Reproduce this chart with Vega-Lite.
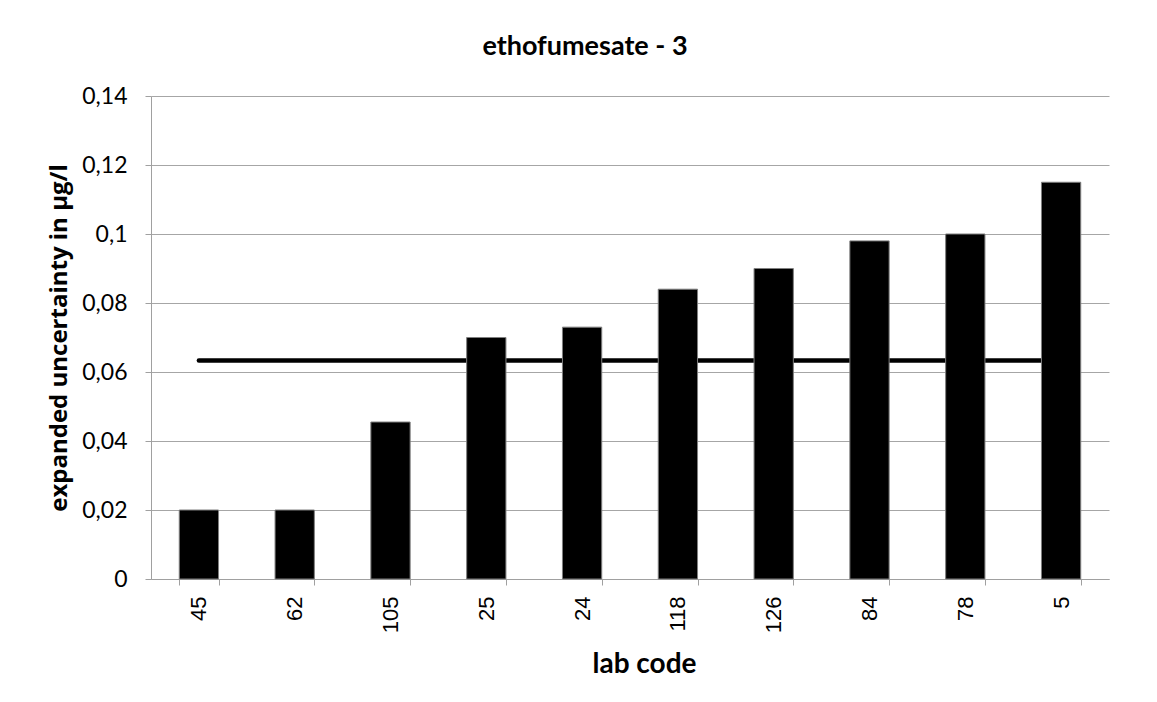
{
  "$schema": "https://vega.github.io/schema/vega-lite/v6.json",
  "width": 958,
  "height": 483,
  "autosize": {"type": "none"},
  "padding": {"left": 151, "top": 96, "right": 48, "bottom": 123},
  "background": "white",
  "config": {"view": {"stroke": null}},
  "title": {
    "text": "ethofumesate - 3",
    "font": "Lato",
    "fontSize": 27,
    "fontWeight": "bold",
    "color": "black",
    "anchor": "middle",
    "baseline": "alphabetic",
    "offset": 3,
    "dx": -45
  },
  "data": {
    "values": [
      {"lab": "45", "u": 0.02, "mean": 0.0633},
      {"lab": "62", "u": 0.02, "mean": 0.0633},
      {"lab": "105", "u": 0.0455, "mean": 0.0633},
      {"lab": "25", "u": 0.07, "mean": 0.0633},
      {"lab": "24", "u": 0.073, "mean": 0.0633},
      {"lab": "118", "u": 0.084, "mean": 0.0633},
      {"lab": "126", "u": 0.09, "mean": 0.0633},
      {"lab": "84", "u": 0.098, "mean": 0.0633},
      {"lab": "78", "u": 0.1, "mean": 0.0633},
      {"lab": "5", "u": 0.115, "mean": 0.0633}
    ]
  },
  "encoding": {
    "x": {
      "field": "lab",
      "type": "nominal",
      "sort": null,
      "scale": {"paddingInner": 0.59, "paddingOuter": 0.295},
      "axis": {
        "title": "lab code",
        "titleFont": "Lato",
        "titleFontSize": 28,
        "titleFontWeight": "bold",
        "titleColor": "black",
        "titlePadding": 18,
        "titleX": 493,
        "labelAngle": -90,
        "labelFont": "Liberation Sans",
        "labelFontSize": 22,
        "labelColor": "black",
        "labelPadding": 11,
        "labelAlign": "right",
        "labelBaseline": "middle",
        "tickBand": "extent",
        "tickSize": 6,
        "tickColor": "#a0a0a0",
        "domainColor": "#a0a0a0",
        "grid": false
      }
    }
  },
  "layer": [
    {
      "mark": {"type": "line", "color": "black", "strokeWidth": 4.5, "strokeCap": "round"},
      "encoding": {
        "y": {"field": "mean", "type": "quantitative"}
      }
    },
    {
      "mark": {"type": "bar", "color": "black", "stroke": "#7f7f7f", "strokeWidth": 1},
      "encoding": {
        "y": {
          "field": "u",
          "type": "quantitative",
          "scale": {"domain": [0, 0.14], "nice": false},
          "axis": {
            "values": [0, 0.02, 0.04, 0.06, 0.08, 0.1, 0.12, 0.14],
            "labelExpr": "replace(format(datum.value, '~g'), '.', ',')",
            "title": "expanded uncertainty in µg/l",
            "titleFont": "Open Sans",
            "titleFontSize": 24,
            "titleFontWeight": "bold",
            "titleColor": "black",
            "titlePadding": 10,
            "labelFont": "Lato",
            "labelFontSize": 23,
            "labelColor": "black",
            "labelPadding": 18,
            "tickSize": 6,
            "tickColor": "#a0a0a0",
            "domainColor": "#a0a0a0",
            "grid": true,
            "gridColor": "#a6a6a6",
            "gridWidth": 1
          }
        }
      }
    }
  ]
}
